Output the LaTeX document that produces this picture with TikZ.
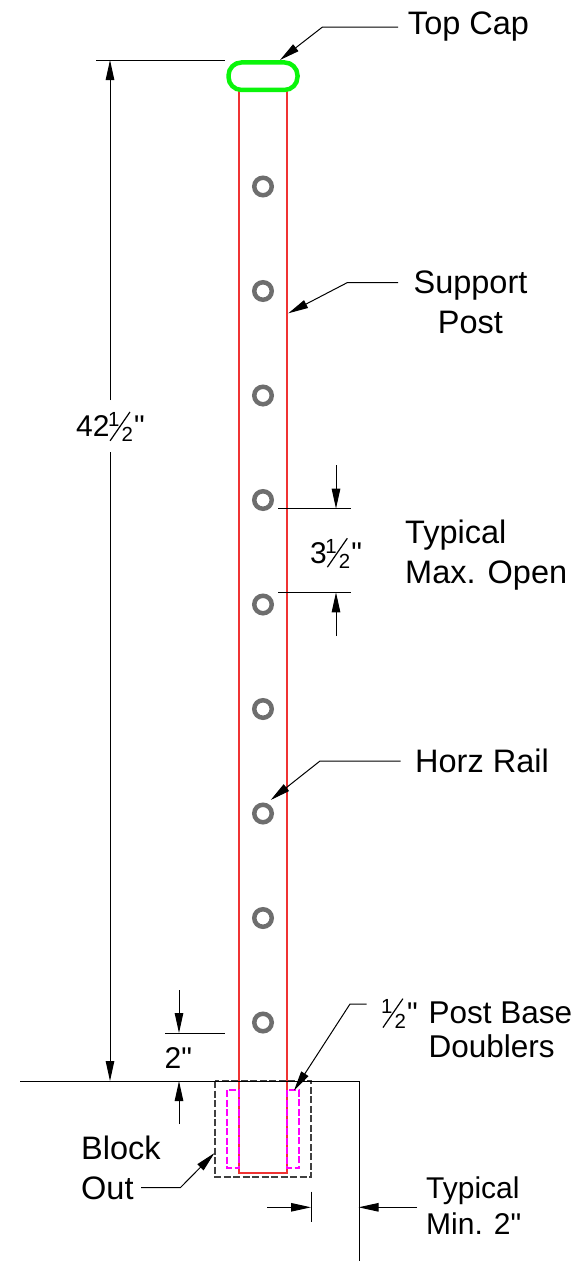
\documentclass[tikz,border=0pt]{standalone}
\usepackage{fontspec}
\usepackage{graphicx}
\setmainfont{Liberation Sans}[Ligatures=TeXOff]
\usetikzlibrary{arrows.meta, positioning}
\definecolor{capgreen}{RGB}{10,245,10}
\definecolor{postred}{RGB}{240,50,50}
\definecolor{platepink}{RGB}{255,0,255}
\definecolor{plategray}{RGB}{110,110,110}
\newcommand{\halfmark}{\raisebox{-.15em}{\rotatebox{55.4}{\rule{1.17em}{.04em}}}\kern-.747em\raisebox{.33em}{\scalebox{.68}{1}}\kern.072em\raisebox{-.167em}{\scalebox{.68}{2}}\kern.04em}

\begin{document}
\begin{tikzpicture}[
  x=1pt, y=-1pt,
  label/.style = {font=\fontsize{32.5}{40}\selectfont, align=center, inner sep=0pt},
  dimtext/.style = {font=\fontsize{30}{36}\selectfont, anchor=base west, inner sep=0pt},
  dimline/.style = {draw=black, line width=1pt},
  dimarrow/.style = {dimline, -{Triangle[length=20pt, width=8.5pt]}},
  railring/.style = {circle, draw=plategray, line width=4.5pt, inner sep=0pt, minimum size=17.5pt},
  postline/.style = {draw=postred, line width=1.15pt},
  hidden/.style = {dashed, dash pattern=on 7pt off 2.5pt}
  ]
  \useasboundingbox (0,0) rectangle (578,1261);

    % Post
  \coordinate (postTL) at (239,91);
  \coordinate (postTR) at (287,91);
  \coordinate (postGL) at (239,1081);
  \coordinate (postGR) at (287,1081);
  \coordinate (postBL) at (239,1173);
  \coordinate (postBR) at (287,1173);
  \draw[postline] (postGL) -- (postTL) -- (postTR) -- (postGR);
  \draw[postline, line width=1.4pt] (postGL) -- (postBL) -- (postBR) -- (postGR);

    % Doublers and block out
  \draw[platepink, line width=1.4pt, hidden] (227,1090) rectangle (239,1168);
  \draw[platepink, line width=1.4pt, hidden] (287,1090) rectangle (299,1168);
  \draw[black!75, line width=1.2pt, hidden] (215,1081) rectangle (311,1177);

    % Top cap
  \node[draw=capgreen, line width=4.5pt, rounded corners=13pt, minimum width=69pt, minimum height=27.5pt, inner sep=0pt] (topcap) at (263,76.2) {};

    % Rails
  \foreach \i/\ypos in {1/186.5,2/291,3/395.5,4/500,5/604.5,6/709,7/813.5,8/918,9/1022.5}
    \node[railring] (rail\i) at (263,\ypos) {};

    % Ground and slab edge
  \coordinate (groundL) at (20,1081);
  \coordinate (slabC) at (359.5,1081);
  \coordinate (slabB) at (359.5,1261);
  \draw[dimline] (groundL) -- (slabC) -- (slabB);

    % Overall height
  \coordinate (topExtL) at (96,60);
  \coordinate (topExtR) at (225,60);
  \draw[dimline] (topExtL) -- (topExtR);
  \node[dimtext] (overall) at (76,436.7) {42\halfmark"};
  \coordinate (overallA) at (110,400);
  \coordinate (overallB) at (110,452);
  \draw[dimarrow] (overallA) -- (topExtL -| overallA);
  \draw[dimarrow] (overallB) -- (groundL -| overallB);

    % Opening
  \coordinate (openA) at (278,508.7);
  \coordinate (openAr) at (351,508.7);
  \coordinate (openB) at (278,592.3);
  \coordinate (openBr) at (351,592.3);
  \draw[dimline] (openA) -- (openAr);
  \draw[dimline] (openB) -- (openBr);
  \draw[dimarrow] (336,465) -- (336,508.7);
  \draw[dimarrow] (336,636) -- (336,592.3);
  \node[dimtext] (opengap) at (310,563) {3\halfmark"};
  \node[label, align=left, anchor=west] (openlabel) at (405,555) {Typical\\Max. Open};

    % Leaders
  \node[label] (caplabel) at (468.5,27) {Top Cap};
  \coordinate (capS) at (398,27);
  \coordinate (capE) at (322.5,27);
  \draw[dimarrow] (capS) -- (capE) -- (280,60);
  \node[label] (postlabel) at (470.5,302) {Support\\Post};
  \coordinate (postS) at (398,282.5);
  \coordinate (postE) at (347.5,282.5);
  \draw[dimarrow] (postS) -- (postE) -- (288.3,313.3);
  \node[label] (raillabel) at (482,761) {Horz Rail};
  \coordinate (railS) at (400.5,761);
  \coordinate (railE) at (320,761);
  \draw[dimarrow] (railS) -- (railE) -- (270.7,800);
  \node[label, font=\fontsize{31.5}{34}\selectfont, align=left, anchor=west] (baselabel) at (428.5,1028) {\llap{\fontsize{30}{34}\selectfont\halfmark"\kern11pt}Post Base\\Doublers};
  \coordinate (baseS) at (366.7,1004);
  \coordinate (baseE) at (350,1004);
  \draw[dimarrow] (baseS) -- (baseE) -- (294,1090.5);
  \node[label, align=left, anchor=west] (blocklabel) at (81,1168) {Block\\Out};
  \coordinate (blockS) at (141,1187.5);
  \coordinate (blockE) at (180.5,1187.5);
  \draw[dimarrow] (blockS) -- (blockE) -- (214.5,1153);

    % Base dimension
  \coordinate (baseExtL) at (165,1033);
  \coordinate (baseExtR) at (225,1033);
  \draw[dimline] (baseExtL) -- (baseExtR);
  \draw[dimarrow] (179,990) -- (179,1033);
  \draw[dimarrow] (179,1124) -- (179,1081);
  \node[dimtext] (basegap) at (164.5,1068.3) {2"};

    % Edge distance
  \coordinate (edgeT) at (311,1191.5);
  \coordinate (edgeB) at (311,1221.5);
  \draw[dimline] (edgeT) -- (edgeB);
  \draw[dimarrow] (267,1207.3) -- (311,1207.3);
  \draw[dimarrow] (417,1207.3) -- (358.5,1207.3);
  \node[label, font=\fontsize{30}{36}\selectfont, align=left, anchor=west] (edgelabel) at (426,1206) {Typical\\Min. 2"};
\end{tikzpicture}
\end{document}
